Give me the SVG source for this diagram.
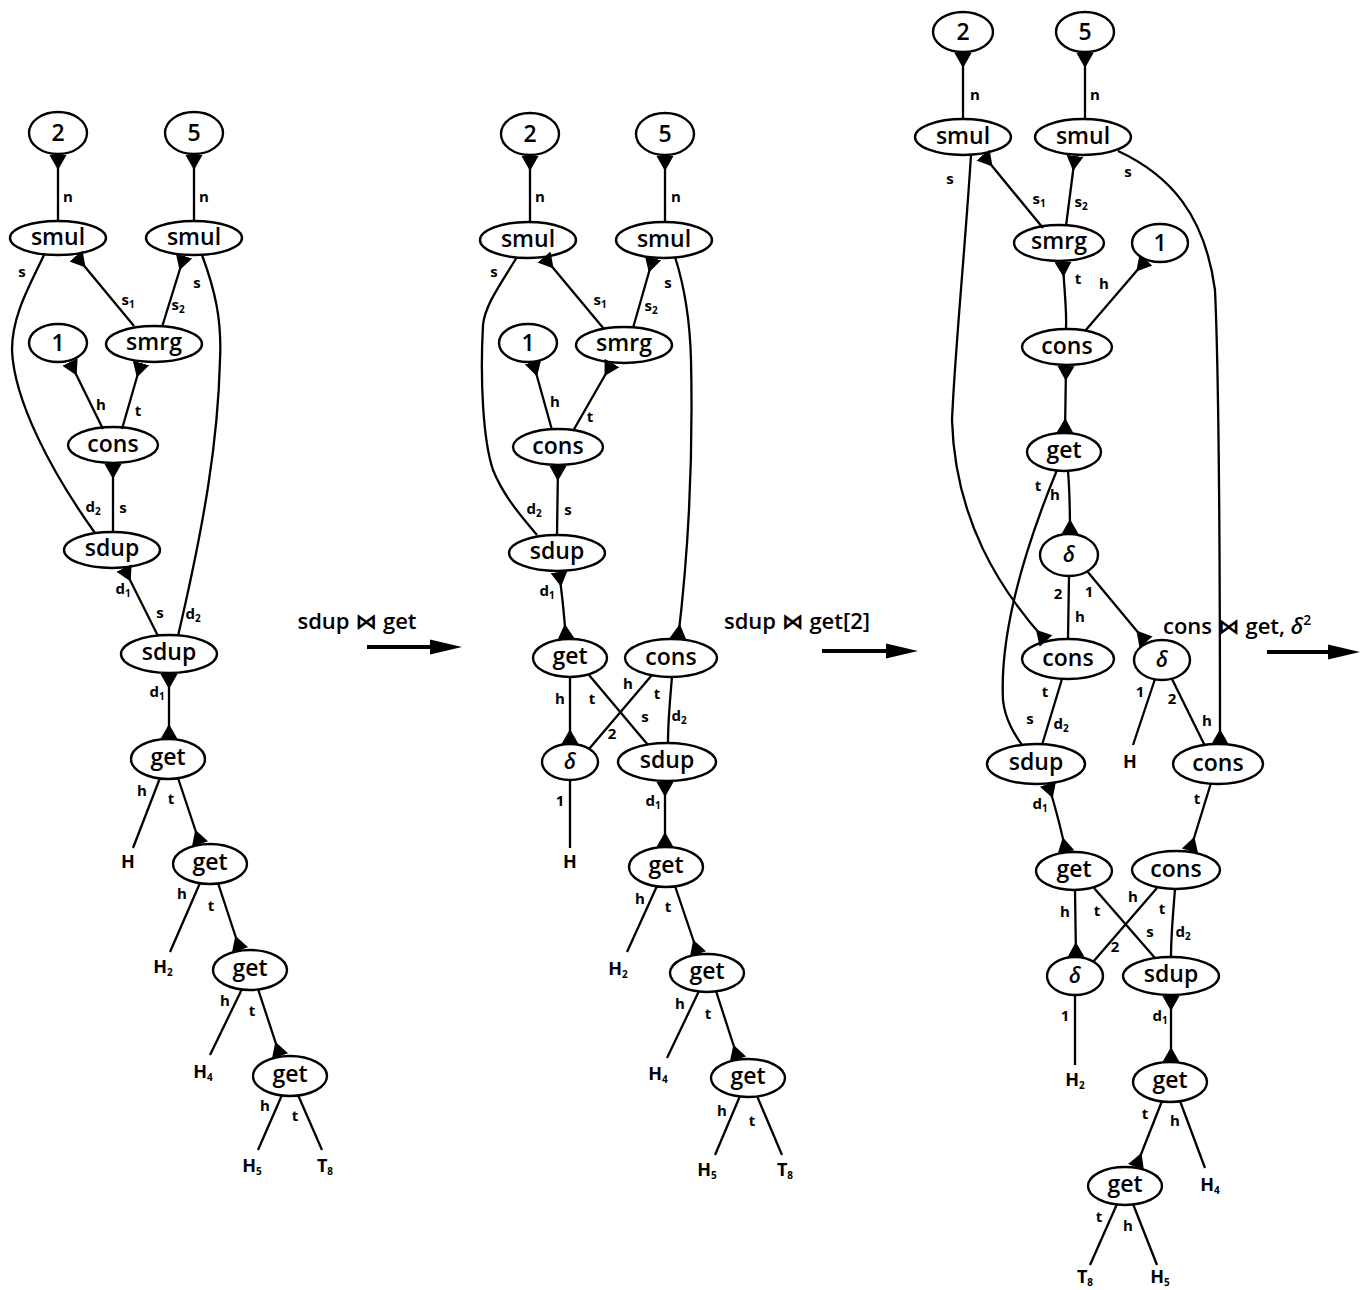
<svg xmlns="http://www.w3.org/2000/svg" width="1361" height="1290" viewBox="0 0 1361 1290">
<style>
.nd ellipse{fill:#fff;stroke:#000;stroke-width:2.4}
.nd text{font-family:"Open Sans","DejaVu Sans",sans-serif;font-weight:600;font-size:23px;text-anchor:middle;fill:#000}
.nd text.dl{font-style:italic;font-size:21px}
.cn path{fill:none;stroke:#000;stroke-width:2.3}
.lb{font-family:"Open Sans","DejaVu Sans",sans-serif;font-weight:700;font-size:15px;text-anchor:middle;fill:#000}
.sb{font-size:10px}
.tm{font-family:"Open Sans","DejaVu Sans",sans-serif;font-weight:700;font-size:18px;text-anchor:middle;fill:#000}
.ar{font-family:"Open Sans","DejaVu Sans",sans-serif;font-weight:600;font-size:22px;text-anchor:middle;fill:#000}
.al{stroke:#000;stroke-width:4}
</style>
<defs>
<marker id="ps" markerUnits="userSpaceOnUse" markerWidth="16" markerHeight="20" viewBox="0 -10 16 20" refX="0" refY="0" orient="auto"><path d="M0,-8.5 L15,0 L0,8.5z" fill="#000"/></marker>
<marker id="pe" markerUnits="userSpaceOnUse" markerWidth="16" markerHeight="20" viewBox="0 -10 16 20" refX="15" refY="0" orient="auto"><path d="M15,-8.5 L0,0 L15,8.5z" fill="#000"/></marker>
</defs>
<rect width="1361" height="1290" fill="#fff"/>

<!-- left nodes -->
<g id="L-2" class="nd"><ellipse cx="58" cy="133" rx="29" ry="21"/><text x="58" y="141">2</text></g>
<g id="L-5" class="nd"><ellipse cx="194" cy="133" rx="29" ry="21"/><text x="194" y="141">5</text></g>
<g id="L-smul1" class="nd"><ellipse cx="58" cy="238" rx="48" ry="17"/><text x="58" y="245">smul</text></g>
<g id="L-smul2" class="nd"><ellipse cx="194" cy="238" rx="48" ry="17"/><text x="194" y="245">smul</text></g>
<g id="L-1" class="nd"><ellipse cx="58" cy="343" rx="29" ry="19"/><text x="58" y="351">1</text></g>
<g id="L-smrg" class="nd"><ellipse cx="154" cy="344" rx="48" ry="18"/><text x="154" y="350">smrg</text></g>
<g id="L-cons" class="nd"><ellipse cx="113" cy="445" rx="45" ry="18"/><text x="113" y="452">cons</text></g>
<g id="L-sdup1" class="nd"><ellipse cx="112" cy="550" rx="48" ry="18"/><text x="112" y="556">sdup</text></g>
<g id="L-sdup2" class="nd"><ellipse cx="169" cy="654" rx="48" ry="19"/><text x="169" y="660">sdup</text></g>
<g id="L-get1" class="nd"><ellipse cx="168" cy="759" rx="37" ry="20"/><text x="168" y="765">get</text></g>
<g id="L-get2" class="nd"><ellipse cx="210" cy="864" rx="37" ry="20"/><text x="210" y="870">get</text></g>
<g id="L-get3" class="nd"><ellipse cx="250" cy="970" rx="37" ry="20"/><text x="250" y="976">get</text></g>
<g id="L-get4" class="nd"><ellipse cx="290" cy="1076" rx="37" ry="20"/><text x="290" y="1082">get</text></g>

<!-- middle nodes -->
<g id="M-2" class="nd"><ellipse cx="530" cy="134" rx="29" ry="21"/><text x="530" y="142">2</text></g>
<g id="M-5" class="nd"><ellipse cx="665" cy="134" rx="29" ry="21"/><text x="665" y="142">5</text></g>
<g id="M-smul1" class="nd"><ellipse cx="528" cy="240" rx="48" ry="18"/><text x="528" y="247">smul</text></g>
<g id="M-smul2" class="nd"><ellipse cx="664" cy="240" rx="48" ry="18"/><text x="664" y="247">smul</text></g>
<g id="M-1" class="nd"><ellipse cx="528" cy="343" rx="29" ry="19"/><text x="528" y="351">1</text></g>
<g id="M-smrg" class="nd"><ellipse cx="624" cy="345" rx="48" ry="18"/><text x="624" y="351">smrg</text></g>
<g id="M-cons1" class="nd"><ellipse cx="558" cy="447" rx="45" ry="18"/><text x="558" y="454">cons</text></g>
<g id="M-sdup1" class="nd"><ellipse cx="557" cy="553" rx="48" ry="18"/><text x="557" y="559">sdup</text></g>
<g id="M-get1" class="nd"><ellipse cx="570" cy="658" rx="37" ry="19"/><text x="570" y="664">get</text></g>
<g id="M-cons2" class="nd"><ellipse cx="671" cy="658" rx="46" ry="19"/><text x="671" y="665">cons</text></g>
<g id="M-delta" class="nd"><ellipse cx="570" cy="762" rx="28" ry="18"/><text class="dl" x="570" y="769">δ</text></g>
<g id="M-sdup2" class="nd"><ellipse cx="667" cy="762" rx="49" ry="19"/><text x="667" y="768">sdup</text></g>
<g id="M-get2" class="nd"><ellipse cx="666" cy="867" rx="37" ry="20"/><text x="666" y="873">get</text></g>
<g id="M-get3" class="nd"><ellipse cx="707" cy="973" rx="37" ry="19"/><text x="707" y="979">get</text></g>
<g id="M-get4" class="nd"><ellipse cx="748" cy="1078" rx="37" ry="19"/><text x="748" y="1084">get</text></g>

<!-- right nodes -->
<g id="R-2" class="nd"><ellipse cx="963" cy="32" rx="30" ry="20"/><text x="963" y="40">2</text></g>
<g id="R-5" class="nd"><ellipse cx="1085" cy="32" rx="29" ry="20"/><text x="1085" y="40">5</text></g>
<g id="R-smul1" class="nd"><ellipse cx="963" cy="137" rx="48" ry="18"/><text x="963" y="144">smul</text></g>
<g id="R-smul2" class="nd"><ellipse cx="1083" cy="137" rx="48" ry="18"/><text x="1083" y="144">smul</text></g>
<g id="R-smrg" class="nd"><ellipse cx="1059" cy="243" rx="45" ry="18"/><text x="1059" y="249">smrg</text></g>
<g id="R-1" class="nd"><ellipse cx="1160" cy="243" rx="28" ry="19"/><text x="1160" y="251">1</text></g>
<g id="R-cons1" class="nd"><ellipse cx="1067" cy="347" rx="45" ry="18"/><text x="1067" y="354">cons</text></g>
<g id="R-get1" class="nd"><ellipse cx="1064" cy="452" rx="37" ry="19"/><text x="1064" y="458">get</text></g>
<g id="R-delta1" class="nd"><ellipse cx="1069" cy="555" rx="29" ry="21"/><text class="dl" x="1069" y="562">δ</text></g>
<g id="R-cons2" class="nd"><ellipse cx="1068" cy="659" rx="46" ry="20"/><text x="1068" y="666">cons</text></g>
<g id="R-delta2" class="nd"><ellipse cx="1162" cy="660" rx="28" ry="20"/><text class="dl" x="1162" y="667">δ</text></g>
<g id="R-sdup1" class="nd"><ellipse cx="1036" cy="764" rx="49" ry="20"/><text x="1036" y="770">sdup</text></g>
<g id="R-cons3" class="nd"><ellipse cx="1218" cy="764" rx="45" ry="20"/><text x="1218" y="771">cons</text></g>
<g id="R-get2" class="nd"><ellipse cx="1074" cy="871" rx="38" ry="19"/><text x="1074" y="877">get</text></g>
<g id="R-cons4" class="nd"><ellipse cx="1176" cy="870" rx="44" ry="19"/><text x="1176" y="877">cons</text></g>
<g id="R-delta3" class="nd"><ellipse cx="1075" cy="976" rx="28" ry="19"/><text class="dl" x="1075" y="983">δ</text></g>
<g id="R-sdup2" class="nd"><ellipse cx="1171" cy="976" rx="48" ry="19"/><text x="1171" y="982">sdup</text></g>
<g id="R-get3" class="nd"><ellipse cx="1170" cy="1082" rx="37" ry="20"/><text x="1170" y="1088">get</text></g>
<g id="R-get4" class="nd"><ellipse cx="1125" cy="1186" rx="37" ry="19"/><text x="1125" y="1192">get</text></g>

<g id="connectors" class="cn">
<!-- left -->
<path d="M58,155 L58,221" marker-start="url(#ps)"/>
<path d="M194,155 L194,221" marker-start="url(#ps)"/>
<path d="M76,256 L134,326" marker-start="url(#ps)"/>
<path d="M184,256 L162,327" marker-start="url(#ps)"/>
<path d="M44,255 C30,285 12,315 12,350 C14,400 50,470 95,533"/>
<path d="M202,255 C215,290 222,320 220,360 C218,440 205,520 178,636"/>
<path d="M70,362 L103,429" marker-start="url(#ps)"/>
<path d="M141,363 L122,429" marker-start="url(#ps)"/>
<path d="M113,464 L113,532" marker-start="url(#ps)"/>
<path d="M124,568 L158,636" marker-start="url(#ps)"/>
<path d="M169,674 L169,739" marker-start="url(#ps)" marker-end="url(#pe)"/>
<path d="M160,778 L133,848"/>
<path d="M178,778 L200,844" marker-end="url(#pe)"/>
<path d="M200,883 L170,952"/>
<path d="M218,883 L240,950" marker-end="url(#pe)"/>
<path d="M242,989 L210,1055"/>
<path d="M258,989 L280,1056" marker-end="url(#pe)"/>
<path d="M282,1095 L258,1150"/>
<path d="M298,1095 L322,1150"/>
<!-- middle -->
<path d="M530,156 L530,222" marker-start="url(#ps)"/>
<path d="M665,156 L665,222" marker-start="url(#ps)"/>
<path d="M544,257 L604,329" marker-start="url(#ps)"/>
<path d="M653,258 L633,328" marker-start="url(#ps)"/>
<path d="M517,257 C500,285 485,305 483,325 C480,380 483,440 493,470 C503,495 520,515 537,535"/>
<path d="M675,257 C684,285 690,320 691,360 C693,450 690,540 678,639" marker-end="url(#pe)"/>
<path d="M533,362 L552,430" marker-start="url(#ps)"/>
<path d="M612,363 L573,431" marker-start="url(#ps)"/>
<path d="M558,466 L557,535" marker-start="url(#ps)"/>
<path d="M559,572 Q563,600 566,639" marker-start="url(#ps)" marker-end="url(#pe)"/>
<path d="M570,677 L570,744" marker-end="url(#pe)"/>
<path d="M589,675 L648,745"/>
<path d="M652,675 L589,749"/>
<path d="M672,677 C670,700 668,720 668,743"/>
<path d="M570,780 L570,848"/>
<path d="M665,782 L665,847" marker-start="url(#ps)" marker-end="url(#pe)"/>
<path d="M657,886 L627,952"/>
<path d="M675,886 L698,954" marker-end="url(#pe)"/>
<path d="M699,991 L667,1058"/>
<path d="M716,991 L738,1059" marker-end="url(#pe)"/>
<path d="M740,1096 L715,1155"/>
<path d="M757,1096 L782,1155"/>
<!-- right -->
<path d="M963,53 L963,119" marker-start="url(#ps)"/>
<path d="M1085,53 L1085,119" marker-start="url(#ps)"/>
<path d="M983,155 L1043,228" marker-start="url(#ps)"/>
<path d="M1075,156 L1066,226" marker-start="url(#ps)"/>
<path d="M971,155 C965,250 955,350 952,420 C955,520 1000,590 1046,641" marker-end="url(#pe)"/>
<path d="M1118,151 C1170,175 1205,215 1215,290 C1220,400 1220,600 1220,744" marker-end="url(#pe)"/>
<path d="M1063,262 C1064,290 1067,310 1066,329" marker-start="url(#ps)"/>
<path d="M1146,260 L1085,331" marker-start="url(#ps)"/>
<path d="M1066,366 L1065,433" marker-start="url(#ps)" marker-end="url(#pe)"/>
<path d="M1068,471 C1070,495 1070,515 1070,534" marker-end="url(#pe)"/>
<path d="M1057,470 C1020,560 1000,640 1003,700 C1005,720 1015,735 1022,745"/>
<path d="M1069,576 L1068,639"/>
<path d="M1087,571 L1146,642" marker-end="url(#pe)"/>
<path d="M1155,679 L1133,745"/>
<path d="M1172,679 L1205,746"/>
<path d="M1062,679 L1042,745"/>
<path d="M1048,784 C1055,805 1060,825 1066,852" marker-start="url(#ps)" marker-end="url(#pe)"/>
<path d="M1211,783 L1190,851" marker-end="url(#pe)"/>
<path d="M1075,890 L1076,957" marker-end="url(#pe)"/>
<path d="M1094,888 L1155,958"/>
<path d="M1157,888 L1093,962"/>
<path d="M1175,889 C1173,915 1171,935 1171,957"/>
<path d="M1075,995 L1075,1065"/>
<path d="M1171,996 L1171,1062" marker-start="url(#ps)" marker-end="url(#pe)"/>
<path d="M1162,1101 L1136,1167" marker-end="url(#pe)"/>
<path d="M1180,1101 L1205,1168"/>
<path d="M1117,1204 L1090,1265"/>
<path d="M1133,1204 L1157,1265"/>
</g>

<g id="edge-labels" class="lb">
<!-- left -->
<text x="68" y="202">n</text>
<text x="204" y="202">n</text>
<text x="128" y="305">s<tspan class="sb" dy="3">1</tspan></text>
<text x="178" y="310">s<tspan class="sb" dy="3">2</tspan></text>
<text x="22" y="277">s</text>
<text x="197" y="288">s</text>
<text x="93" y="512">d<tspan class="sb" dy="3">2</tspan></text>
<text x="123" y="513">s</text>
<text x="101" y="410">h</text>
<text x="138" y="416">t</text>
<text x="123" y="594">d<tspan class="sb" dy="3">1</tspan></text>
<text x="160" y="618">s</text>
<text x="193" y="619">d<tspan class="sb" dy="3">2</tspan></text>
<text x="157" y="697">d<tspan class="sb" dy="3">1</tspan></text>
<text x="142" y="796">h</text>
<text x="171" y="804">t</text>
<text x="182" y="899">h</text>
<text x="211" y="911">t</text>
<text x="225" y="1006">h</text>
<text x="252" y="1016">t</text>
<text x="265" y="1111">h</text>
<text x="295" y="1121">t</text>
<!-- middle -->
<text x="540" y="202">n</text>
<text x="676" y="202">n</text>
<text x="600" y="305">s<tspan class="sb" dy="3">1</tspan></text>
<text x="651" y="311">s<tspan class="sb" dy="3">2</tspan></text>
<text x="494" y="277">s</text>
<text x="668" y="288">s</text>
<text x="555" y="407">h</text>
<text x="590" y="422">t</text>
<text x="534" y="514">d<tspan class="sb" dy="3">2</tspan></text>
<text x="568" y="515">s</text>
<text x="547" y="596">d<tspan class="sb" dy="3">1</tspan></text>
<text x="560" y="704">h</text>
<text x="592" y="704">t</text>
<text x="628" y="689">h</text>
<text x="657" y="699">t</text>
<text x="645" y="722">s</text>
<text x="679" y="721">d<tspan class="sb" dy="3">2</tspan></text>
<text x="612" y="739">2</text>
<text x="560" y="806">1</text>
<text x="653" y="806">d<tspan class="sb" dy="3">1</tspan></text>
<text x="640" y="904">h</text>
<text x="668" y="912">t</text>
<text x="680" y="1009">h</text>
<text x="708" y="1019">t</text>
<text x="722" y="1116">h</text>
<text x="752" y="1126">t</text>
<!-- right -->
<text x="975" y="100">n</text>
<text x="1095" y="100">n</text>
<text x="1039" y="204">s<tspan class="sb" dy="3">1</tspan></text>
<text x="1081" y="207">s<tspan class="sb" dy="3">2</tspan></text>
<text x="950" y="184">s</text>
<text x="1128" y="177">s</text>
<text x="1078" y="284">t</text>
<text x="1104" y="289">h</text>
<text x="1038" y="491">t</text>
<text x="1055" y="500">h</text>
<text x="1058" y="599">2</text>
<text x="1089" y="597">1</text>
<text x="1080" y="622">h</text>
<text x="1140" y="697">1</text>
<text x="1172" y="704">2</text>
<text x="1207" y="726">h</text>
<text x="1045" y="697">t</text>
<text x="1030" y="724">s</text>
<text x="1061" y="729">d<tspan class="sb" dy="3">2</tspan></text>
<text x="1040" y="809">d<tspan class="sb" dy="3">1</tspan></text>
<text x="1197" y="804">t</text>
<text x="1065" y="917">h</text>
<text x="1097" y="916">t</text>
<text x="1133" y="902">h</text>
<text x="1162" y="914">t</text>
<text x="1150" y="937">s</text>
<text x="1183" y="937">d<tspan class="sb" dy="3">2</tspan></text>
<text x="1115" y="952">2</text>
<text x="1065" y="1021">1</text>
<text x="1160" y="1021">d<tspan class="sb" dy="3">1</tspan></text>
<text x="1145" y="1119">t</text>
<text x="1175" y="1126">h</text>
<text x="1099" y="1222">t</text>
<text x="1128" y="1231">h</text>
</g>

<g id="terminals" class="tm">
<text x="128" y="868">H</text>
<text x="163" y="973">H<tspan class="sb" dy="3">2</tspan></text>
<text x="203" y="1078">H<tspan class="sb" dy="3">4</tspan></text>
<text x="252" y="1172">H<tspan class="sb" dy="3">5</tspan></text>
<text x="325" y="1172">T<tspan class="sb" dy="3">8</tspan></text>
<text x="570" y="868">H</text>
<text x="618" y="975">H<tspan class="sb" dy="3">2</tspan></text>
<text x="658" y="1080">H<tspan class="sb" dy="3">4</tspan></text>
<text x="707" y="1176">H<tspan class="sb" dy="3">5</tspan></text>
<text x="785" y="1176">T<tspan class="sb" dy="3">8</tspan></text>
<text x="1130" y="768">H</text>
<text x="1075" y="1086">H<tspan class="sb" dy="3">2</tspan></text>
<text x="1210" y="1191">H<tspan class="sb" dy="3">4</tspan></text>
<text x="1085" y="1283">T<tspan class="sb" dy="3">8</tspan></text>
<text x="1160" y="1283">H<tspan class="sb" dy="3">5</tspan></text>
</g>

<!-- transformation arrows -->
<g id="step1">
<text class="ar" x="357" y="629">sdup ⋈ get</text>
<line class="al" x1="367" y1="647" x2="432" y2="647"/>
<path d="M430,639.5 L462,647 L430,654.5z" fill="#000"/>
</g>
<g id="step2">
<text class="ar" x="797" y="629">sdup ⋈ get[2]</text>
<line class="al" x1="822" y1="651" x2="888" y2="651"/>
<path d="M886,643.5 L918,651 L886,658.5z" fill="#000"/>
</g>
<g id="step3">
<text class="ar" x="1163" y="634" style="text-anchor:start">cons ⋈ get, <tspan font-style="italic">δ</tspan><tspan font-size="14" dy="-9">2</tspan></text>
<line class="al" x1="1267" y1="652" x2="1330" y2="652"/>
<path d="M1328,644.5 L1360,652 L1328,659.5z" fill="#000"/>
</g>
</svg>
